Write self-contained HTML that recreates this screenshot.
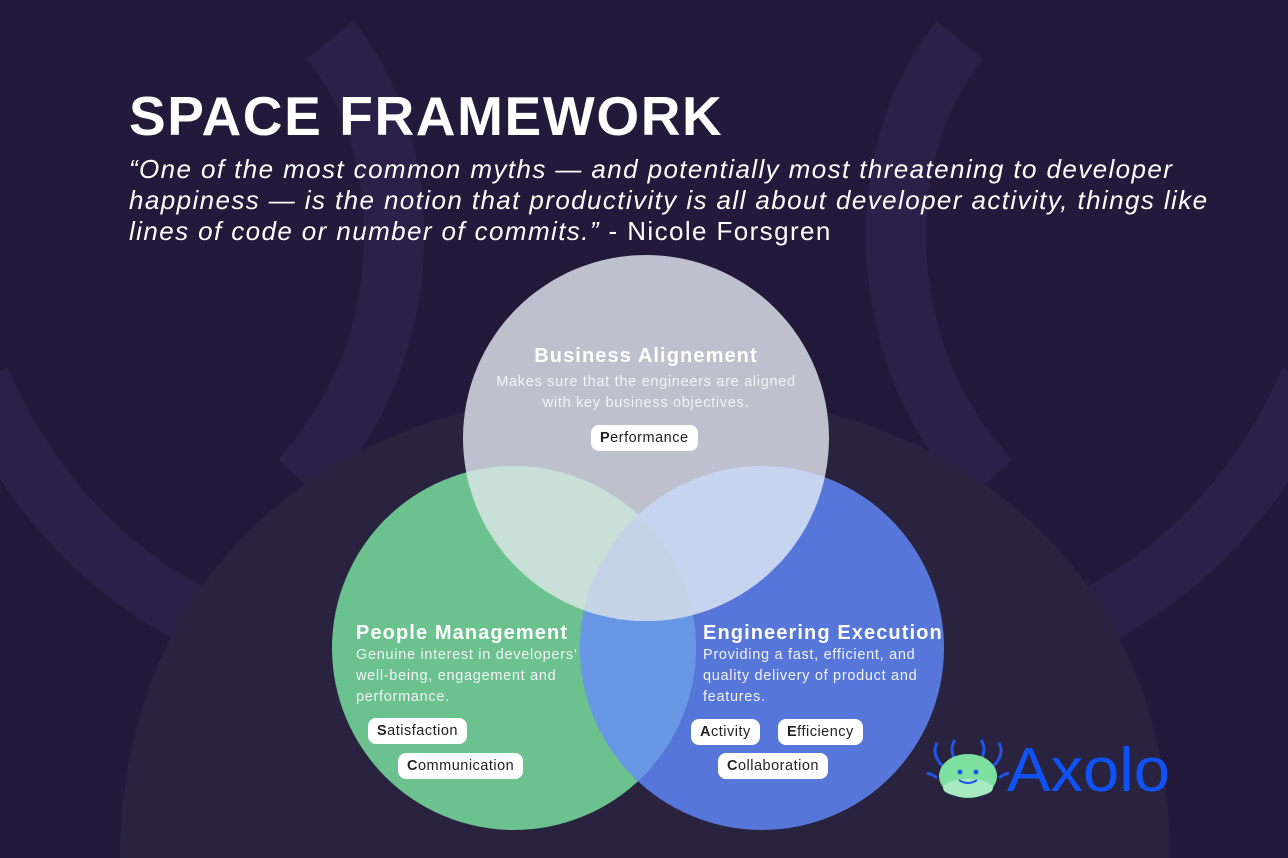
<!DOCTYPE html>
<html><head><meta charset="utf-8"><style>
body{margin:0;width:1288px;height:858px;overflow:hidden;background:#231a3b;font-family:"Liberation Sans",sans-serif;position:relative}
.abs{position:absolute}
h1{position:absolute;left:129px;top:84px;margin:0;font-size:55px;font-weight:bold;color:#fff;letter-spacing:1.6px;white-space:nowrap}
.q{left:129px;top:154px;font-size:26px;line-height:31px;color:#fff;font-style:italic;letter-spacing:1.4px;white-space:nowrap}
.t{color:#fff;font-weight:bold;font-size:20px;letter-spacing:1.1px;white-space:nowrap}
.d{color:#f2f2f7;font-size:14.5px;line-height:21px;letter-spacing:0.7px;white-space:nowrap}
.pill{position:absolute;background:#fff;border-radius:8px;color:#222;font-size:14.5px;height:26px;line-height:26px;padding:0 9px;letter-spacing:0.5px}
.pill b{font-weight:bold}
</style></head><body>
<svg class="abs" style="left:0;top:0" width="1288" height="858">
<defs>
<clipPath id="cg"><circle cx="514" cy="648" r="182"/></clipPath>
<clipPath id="ct"><circle cx="646" cy="438" r="183"/></clipPath>
</defs>
<g fill="none" stroke="#2b2148" stroke-width="60">
<path d="M330 40 C420 150 420 350 300 480"/>
<path d="M960 40 C870 150 870 350 990 480"/>
<path d="M-20 380 C60 560 200 640 330 660"/>
<path d="M1310 380 C1230 560 1090 640 960 660"/>
</g>
<path d="M120 858 C120 600 300 390 644 390 C990 390 1170 600 1170 858 Z" fill="#2a2340"/>
<circle cx="514" cy="648" r="182" fill="#6bc28f"/>
<circle cx="762" cy="648" r="182" fill="#5677d9"/>
<circle cx="762" cy="648" r="182" fill="#6797e5" clip-path="url(#cg)"/>
<circle cx="646" cy="438" r="183" fill="#bfc0cd"/>
<circle cx="514" cy="648" r="182" fill="#c9e0d8" clip-path="url(#ct)"/>
<circle cx="762" cy="648" r="182" fill="#c6d4ef" clip-path="url(#ct)"/>
<g clip-path="url(#ct)"><circle cx="762" cy="648" r="182" fill="#c6d3e6" clip-path="url(#cg)"/></g>
<g transform="translate(927,738)">
<path d="M18 30 C8 22 6 12 10 5 M28 22 C24 14 24 8 28 2 M54 22 C58 14 58 8 54 2 M64 30 C74 22 76 12 72 5 M10 40 C5 36 2 35 0 36 M72 40 C77 36 80 35 82 36" stroke="#1f55e8" stroke-width="3" fill="none"/>
<ellipse cx="41" cy="38" rx="29" ry="22" fill="#7ee0a0"/>
<ellipse cx="41" cy="50" rx="25" ry="9" fill="#a8e8c0"/>
<circle cx="33" cy="34" r="2.5" fill="#1f55e8"/><circle cx="49" cy="34" r="2.5" fill="#1f55e8"/>
<path d="M32 42 Q41 48 50 42" stroke="#1f55e8" stroke-width="2" fill="none"/>
</g>
<text x="1007" y="791" font-family="Liberation Sans" font-size="62" fill="#0f52f5" textLength="163" lengthAdjust="spacingAndGlyphs">Axolo</text>
</svg>
<h1>SPACE FRAMEWORK</h1>
<div class="abs q">“One of the most common myths — and potentially most threatening to developer<br>happiness — is the notion that productivity is all about developer activity, things like<br>lines of code or number of commits.” <span style="font-style:normal">- Nicole Forsgren</span></div>

<div class="abs t" style="left:463px;width:366px;text-align:center;top:345px">Business Alignement</div>
<div class="abs d" style="left:463px;width:366px;text-align:center;top:372px">Makes sure that the engineers are aligned<br>with key business objectives.</div>
<div class="pill" style="left:591px;top:425px"><b>P</b>erformance</div>

<div class="abs t" style="left:356px;top:622px">People Management</div>
<div class="abs d" style="left:356px;top:645px">Genuine interest in developers’<br>well-being, engagement and<br>performance.</div>
<div class="pill" style="left:368px;top:718px"><b>S</b>atisfaction</div>
<div class="pill" style="left:398px;top:753px"><b>C</b>ommunication</div>

<div class="abs t" style="left:703px;top:622px">Engineering Execution</div>
<div class="abs d" style="left:703px;top:645px">Providing a fast, efficient, and<br>quality delivery of product and<br>features.</div>
<div class="pill" style="left:691px;top:719px"><b>A</b>ctivity</div>
<div class="pill" style="left:778px;top:719px"><b>E</b>fficiency</div>
<div class="pill" style="left:718px;top:753px"><b>C</b>ollaboration</div>
</body></html>
